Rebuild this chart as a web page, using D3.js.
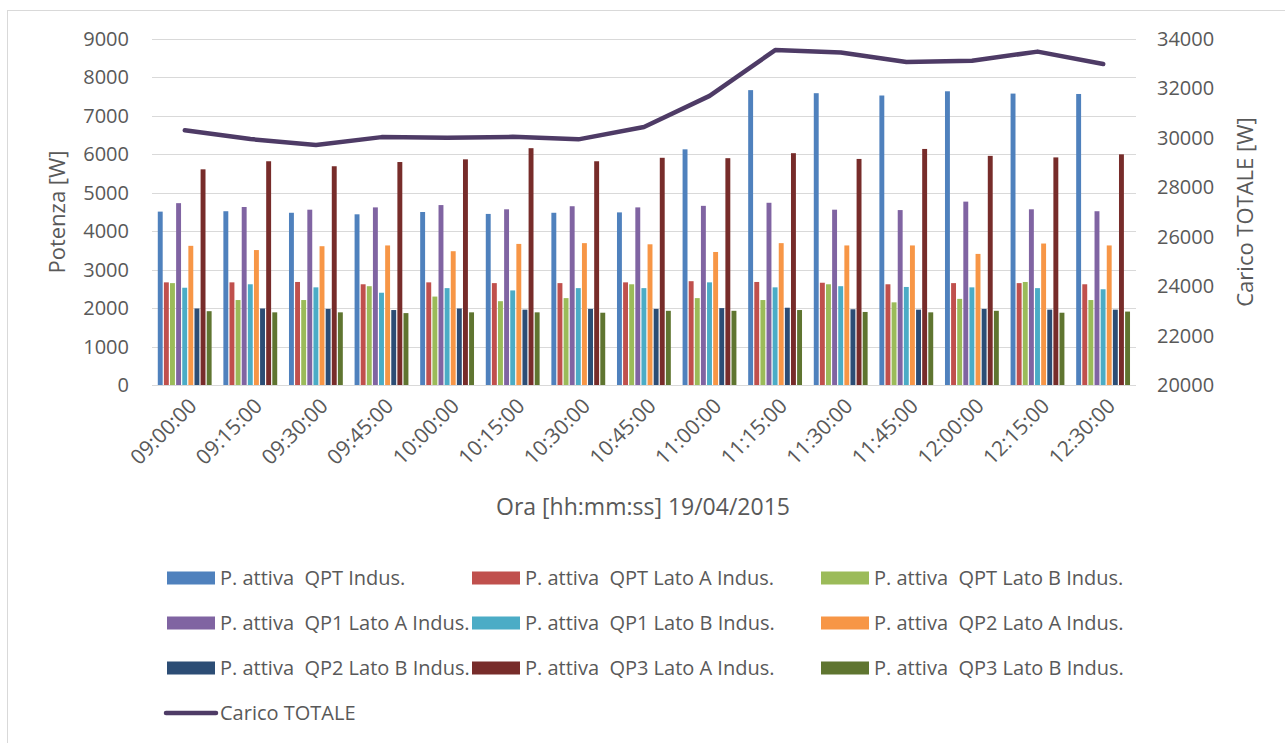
<!DOCTYPE html>
<html>
<head>
<meta charset="utf-8">
<script src="https://d3js.org/d3.v7.min.js"></script>
<style>
  body { margin: 0; background: #fff; }
  text { font-family: "Open Sans", sans-serif; fill: #595959; }
</style>
</head>
<body>
<script>

// categories (time of day)
var times = ["09:00:00","09:15:00","09:30:00","09:45:00","10:00:00","10:15:00","10:30:00","10:45:00",
             "11:00:00","11:15:00","11:30:00","11:45:00","12:00:00","12:15:00","12:30:00"];

var seriesNames = ["P. attiva  QPT Indus.", "P. attiva  QPT Lato A Indus.", "P. attiva  QPT Lato B Indus.",
                   "P. attiva  QP1 Lato A Indus.", "P. attiva  QP1 Lato B Indus.", "P. attiva  QP2 Lato A Indus.",
                   "P. attiva  QP2 Lato B Indus.", "P. attiva  QP3 Lato A Indus.", "P. attiva  QP3 Lato B Indus."];

var qptIndus   = [4510,4520,4480,4440,4500,4450,4480,4490,6130,7670,7590,7530,7640,7580,7570];
var qptLatoA   = [2670,2670,2680,2620,2670,2650,2650,2670,2700,2680,2660,2620,2650,2650,2620];
var qptLatoB   = [2650,2210,2210,2570,2300,2180,2260,2620,2260,2210,2620,2150,2240,2680,2210];
var qp1LatoA   = [4730,4630,4560,4620,4680,4570,4650,4620,4660,4740,4560,4550,4770,4570,4520];
var qp1LatoB   = [2530,2620,2540,2400,2520,2460,2520,2520,2670,2540,2570,2550,2540,2520,2490];
var qp2LatoA   = [3620,3510,3610,3630,3480,3670,3690,3660,3460,3690,3630,3630,3410,3680,3630];
var qp2LatoB   = [1990,1990,1980,1950,1990,1960,1980,1980,2000,2010,1970,1960,1980,1960,1960];
var qp3LatoA   = [5610,5820,5690,5800,5870,6160,5820,5910,5900,6030,5880,6140,5960,5920,6000];
var qp3LatoB   = [1920,1890,1890,1870,1890,1890,1880,1930,1930,1950,1900,1890,1930,1880,1910];

var caricoTotale = [30310,29950,29710,30030,30000,30040,29940,30440,31700,33550,33450,33070,33120,33490,32990];

var seriesValues = [qptIndus,qptLatoA,qptLatoB,qp1LatoA,qp1LatoB,qp2LatoA,qp2LatoB,qp3LatoA,qp3LatoB];
var colors = ["#4F81BD","#C0504D","#9BBB59","#8064A2","#4BACC6","#F79646","#2C4D75","#772C2A","#5F7530"];
var lineColor = "#4E3B66";

var leftTicks = d3.range(0, 9001, 1000);
var rightTicks = d3.range(20000, 34001, 2000);

var W = 1285, H = 743;
var plot = {left: 152, right: 1136, top: 39, bottom: 385};

var svg = d3.select("body").append("svg")
    .attr("width", W).attr("height", H);

// chart frame
svg.append("rect")
    .attr("x", 7.5).attr("y", 10.5)
    .attr("width", 1300).attr("height", 800)
    .attr("fill", "none").attr("stroke", "#d9d9d9");

var x0 = d3.scaleBand().domain(times)
    .range([plot.left, plot.right])
    .paddingInner(0.161).paddingOuter(0.0805);
var x1 = d3.scaleBand().domain(d3.range(seriesValues.length))
    .range([0, x0.bandwidth()]);
var yL = d3.scaleLinear().domain([0, 9000]).range([plot.bottom, plot.top]);
var yR = d3.scaleLinear().domain([20000, 34000]).range([plot.bottom, plot.top]);

// gridlines
svg.append("g").selectAll("line")
    .data(leftTicks)
    .enter().append("line")
    .attr("x1", plot.left).attr("x2", plot.right)
    .attr("y1", function(d){ return Math.round(yL(d)) + 0.5; })
    .attr("y2", function(d){ return Math.round(yL(d)) + 0.5; })
    .attr("stroke", "#d9d9d9").attr("stroke-width", 1.2);

// left axis labels
svg.append("g").selectAll("text")
    .data(leftTicks)
    .enter().append("text")
    .attr("x", 129).attr("y", function(d){ return yL(d); })
    .attr("dy", "0.35em")
    .attr("text-anchor", "end")
    .style("font-size", "20px")
    .text(function(d){ return d; });

// right axis labels
svg.append("g").selectAll("text")
    .data(rightTicks)
    .enter().append("text")
    .attr("x", 1157).attr("y", function(d){ return yR(d); })
    .attr("dy", "0.35em")
    .style("font-size", "20px")
    .text(function(d){ return d; });

// bars
var groups = svg.append("g").selectAll("g")
    .data(seriesValues)
    .enter().append("g")
    .attr("fill", function(d, i){ return colors[i]; });

groups.each(function(vals, si){
    d3.select(this).selectAll("rect")
      .data(vals)
      .enter().append("rect")
      .attr("x", function(v, ci){ return x0(times[ci]) + x1(si) + 0.5; })
      .attr("width", x1.bandwidth() - 1.2)
      .attr("y", function(v){ return yL(v); })
      .attr("height", function(v){ return yL(0) - yL(v); });
});

// total load line
var line = d3.line()
    .x(function(d, i){ return x0(times[i]) + x0.bandwidth() / 2; })
    .y(function(d){ return yR(d); });

svg.append("path")
    .datum(caricoTotale)
    .attr("d", line)
    .attr("fill", "none")
    .attr("stroke", lineColor)
    .attr("stroke-width", 4.5)
    .attr("stroke-linecap", "round")
    .attr("stroke-linejoin", "round");

// x labels, rotated
svg.append("g").selectAll("text")
    .data(times)
    .enter().append("text")
    .attr("transform", function(d){
        return "translate(" + (x0(d) + x0.bandwidth() / 2 + 8) + ",402) rotate(-45)";
    })
    .attr("text-anchor", "end")
    .attr("dy", "0.35em")
    .style("font-size", "21px")
    .text(function(d){ return d; });

// axis titles
svg.append("text")
    .attr("x", 643).attr("y", 515)
    .attr("text-anchor", "middle")
    .style("font-size", "23px")
    .text("Ora [hh:mm:ss] 19/04/2015");

svg.append("text")
    .attr("transform", "translate(65,212) rotate(-90)")
    .attr("text-anchor", "middle")
    .style("font-size", "22px")
    .text("Potenza [W]");

svg.append("text")
    .attr("transform", "translate(1253,212) rotate(-90)")
    .attr("text-anchor", "middle")
    .style("font-size", "22px")
    .text("Carico TOTALE [W]");

// legend
var colX = [167, 472, 821];
var rowY = [578, 623, 668];
var legend = svg.append("g");
seriesNames.forEach(function(name, i){
    var cx = colX[i % 3], cy = rowY[Math.floor(i / 3)];
    legend.append("rect")
        .attr("x", cx).attr("y", cy - 6.5)
        .attr("width", 48).attr("height", 13)
        .attr("fill", colors[i]);
    legend.append("text")
        .attr("x", cx + 53).attr("y", cy)
        .attr("dy", "0.35em")
        .style("font-size", "20px")
        .style("white-space", "pre")
        .text(name);
});
legend.append("line")
    .attr("x1", 166).attr("x2", 216)
    .attr("y1", 713).attr("y2", 713)
    .attr("stroke", lineColor).attr("stroke-width", 4.5)
    .attr("stroke-linecap", "round");
legend.append("text")
    .attr("x", 220).attr("y", 713)
    .attr("dy", "0.35em")
    .style("font-size", "20px")
    .text("Carico TOTALE");

</script>
</body>
</html>
